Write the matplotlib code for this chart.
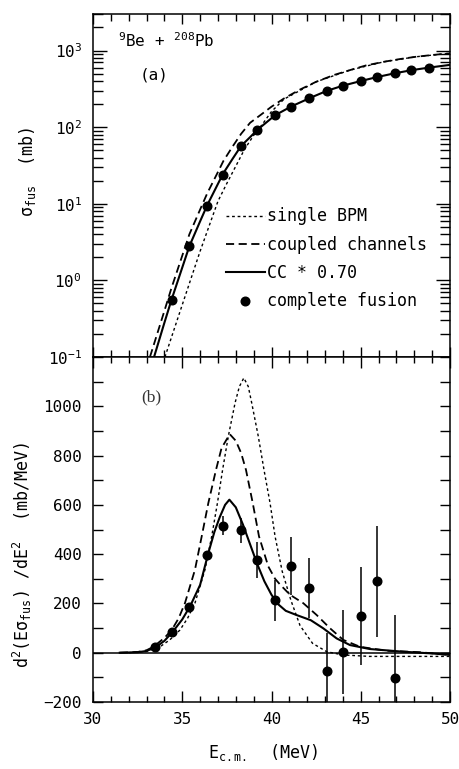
import matplotlib
matplotlib.use("Agg")
import matplotlib.pyplot as plt
from matplotlib.ticker import MultipleLocator, LogLocator, NullFormatter

plt.rcParams['font.family'] = ['DejaVu Sans Mono', 'DejaVu Sans']
plt.rcParams['mathtext.fontset'] = 'custom'
plt.rcParams['mathtext.rm'] = 'DejaVu Sans Mono'
plt.rcParams['mathtext.it'] = 'DejaVu Sans Mono'
plt.rcParams['mathtext.bf'] = 'DejaVu Sans Mono:bold'
plt.rcParams['mathtext.default'] = 'regular'

# ---------------- data: panel (a) ----------------
E_single_a = [34.03, 35.0, 36.0, 37.0, 37.5, 38.0, 38.5, 39.0, 39.5, 40.0, 40.7, 42.5, 44.4, 46.3, 48.1, 50.0]
sig_single = [0.1, 0.48, 2.4, 10.8, 18.5, 31, 52, 78, 110, 160, 232, 391, 556, 714, 830, 920]

E_cc_a = [33.19, 34.0, 34.4, 35.0, 35.4, 36.0, 36.4, 37.0, 37.3, 37.8, 38.3, 38.8, 39.4, 40.0, 40.7, 41.6, 42.5, 43.5, 44.4, 45.3, 46.3, 47.2, 48.1, 49.0, 50.0]
sig_cc = [0.1, 0.40, 0.8, 2.1, 4.0, 8.4, 13.7, 26, 36, 55, 82, 114, 145, 185, 237, 310, 391, 480, 556, 640, 714, 775, 830, 875, 920]

E_cc07_a = [33.42, 34.0, 34.4, 35.0, 35.4, 36.0, 36.4, 37.0, 37.3, 37.8, 38.3, 38.8, 39.2, 40.2, 41.1, 42.2, 43.1, 44.0, 45.0, 45.9, 46.9, 47.9, 48.8, 50.0]
sig_cc07 = [0.1, 0.28, 0.56, 1.47, 2.8, 5.9, 9.6, 18.2, 25, 38, 57, 74, 92, 143, 186, 243, 298, 348, 400, 450, 505, 557, 598, 650]

E_cf_a = [34.4, 35.4, 36.4, 37.3, 38.3, 39.2, 40.2, 41.1, 42.1, 43.1, 44.0, 45.0, 45.9, 46.9, 47.8, 48.8]
sig_cf = [0.56, 2.8, 9.4, 24, 56, 91, 143, 186, 243, 300, 348, 402, 452, 507, 560, 600]

# ---------------- data: panel (b) ----------------
E_single_b = [32.0, 33.0, 33.75, 34.3, 34.87, 35.3, 35.71, 36.27, 36.65, 36.97, 37.26, 37.58, 37.96, 38.2, 38.45, 38.7, 38.89, 39.26, 39.58, 39.92, 40.2, 40.6, 41.1, 41.6, 42.3, 43.1, 44.0, 45.5, 50.0]
bd_single = [0, 5, 24, 52, 92, 140, 201, 336, 472, 607, 742, 878, 1014, 1080, 1115, 1080, 1014, 878, 742, 607, 472, 330, 210, 110, 38, 4, -9, -15, -15]

E_cc_b = [31.5, 32.5, 33.0, 33.38, 34.0, 34.41, 34.8, 35.15, 35.71, 36.09, 36.46, 36.89, 37.2, 37.66, 38.0, 38.3, 38.57, 38.95, 39.3, 39.82, 40.2, 40.5, 41.04, 41.78, 42.53, 43.28, 44.02, 44.96, 46.45, 48.32, 50.0]
bd_cc = [0, 3, 10, 24, 60, 92, 140, 201, 336, 472, 607, 742, 830, 887, 860, 810, 742, 607, 472, 350, 300, 275, 235, 201, 153, 99, 52, 24, 8, 2, -9]

E_cc07_b = [31.5, 32.5, 33.0, 33.5, 34.0, 34.5, 35.0, 35.45, 36.0, 36.46, 36.8, 37.1, 37.4, 37.64, 38.0, 38.4, 38.8, 39.2, 39.6, 40.0, 40.4, 40.8, 41.4, 42.2, 42.9, 43.65, 44.4, 45.5, 47.4, 49.0, 50.0]
bd_cc07 = [0, 2, 7, 22, 48, 88, 135, 190, 275, 404, 490, 550, 600, 621, 590, 520, 440, 360, 290, 235, 195, 170, 153, 132, 99, 58, 31, 15, 4, -3, -9]

E_cf_b = [33.5, 34.4, 35.4, 36.4, 37.3, 38.3, 39.2, 40.2, 41.1, 42.1, 43.1, 44.0, 45.0, 45.9, 46.9]
bd_cf = [24, 83, 186, 396, 516, 496, 377, 213, 352, 262, -73, 4, 149, 289, -102]
bd_err = [5, 6, 10, 15, 40, 52, 74, 83, 117, 122, 152, 170, 200, 225, 255]

W, H = 459, 769
fig = plt.figure(figsize=(W / 100, H / 100), dpi=100)
L, R = 93 / W, 450 / W
y_top, y_mid, y_bot = 1 - 14 / H, 1 - 357 / H, 1 - 702 / H
axa = fig.add_axes([L, y_mid, R - L, y_top - y_mid])
axb = fig.add_axes([L, y_bot, R - L, y_mid - y_bot], sharex=axa)

tick_fs = 11.5
for ax in (axa, axb):
    for s in ax.spines.values():
        s.set_linewidth(1.1)
    ax.tick_params(which='both', direction='in', top=True, right=True, width=1.0, labelsize=tick_fs)

# ---- panel (a) ----
axa.set_yscale('log')
axa.set_xlim(30, 50)
axa.set_ylim(0.1, 3000)
axa.plot(E_single_a, sig_single, color='black', lw=1.0, linestyle=(0, (2, 2)), label='single BPM')
axa.plot(E_cc_a, sig_cc, color='black', lw=1.3, linestyle=(0, (4.5, 2.5)), label='coupled channels')
axa.plot(E_cc07_a, sig_cc07, color='black', lw=1.5, linestyle='-', label='CC * 0.70')
axa.plot(E_cf_a, sig_cf, 'o', color='black', markersize=6.2, label='complete fusion')
axa.yaxis.set_major_locator(LogLocator(base=10, numticks=10))
axa.yaxis.set_minor_locator(LogLocator(base=10, subs=range(2, 10), numticks=20))
axa.yaxis.set_minor_formatter(NullFormatter())
axa.xaxis.set_major_locator(MultipleLocator(5))
axa.xaxis.set_minor_locator(MultipleLocator(1))
axa.tick_params(axis='x', which='both', labelbottom=False)
axa.tick_params(axis='x', which='major', length=7)
axa.tick_params(axis='x', which='minor', length=5)
axa.tick_params(axis='y', which='major', length=10, pad=8)
axa.tick_params(axis='y', which='minor', length=7)

leg = axa.legend(loc='upper left', bbox_to_anchor=(0.372, 0.436), frameon=False,
                 borderpad=0, borderaxespad=0, handlelength=2.35, handletextpad=0.15,
                 labelspacing=0.62, fontsize=12, numpoints=1)

axa.text(0.07, 0.905, r'$^{9}$Be + $^{208}$Pb', transform=axa.transAxes, fontsize=11.5,
         ha='left', va='baseline')
axa.text(0.13, 0.81, '(a)', transform=axa.transAxes, fontsize=11.5, ha='left', va='baseline')

fig.text(33 / W, 1 - 172 / H, r'$\sigma_{fus}$  (mb)', rotation=90, rotation_mode='anchor',
         ha='center', va='baseline', fontsize=12)

# ---- panel (b) ----
axb.set_ylim(-200, 1200)
axb.axhline(0, color='black', lw=1.1)
axb.plot(E_single_b, bd_single, color='black', lw=1.0, linestyle=(0, (2, 2)))
axb.plot(E_cc_b, bd_cc, color='black', lw=1.3, linestyle=(0, (4.5, 2.5)))
axb.plot(E_cc07_b, bd_cc07, color='black', lw=1.5, linestyle='-')
axb.errorbar(E_cf_b, bd_cf, yerr=bd_err, fmt='o', color='black', markersize=6.2,
             elinewidth=1.1, capsize=0)
axb.set_yticks([-200, 0, 200, 400, 600, 800, 1000])
axb.yaxis.set_minor_locator(MultipleLocator(100))
axb.xaxis.set_major_locator(MultipleLocator(5))
axb.xaxis.set_minor_locator(MultipleLocator(1))
axb.tick_params(axis='y', which='both', length=7, pad=8)
axb.tick_params(axis='x', which='major', length=8, pad=7)
axb.tick_params(axis='x', which='minor', length=4)
axb.set_ylim(-200, 1200)
axb.set_xlim(30, 50)

axb.text(0.135, 0.87, '(b)', transform=axb.transAxes, fontsize=12.5, ha='left', va='baseline',
         family='Liberation Serif', color='#333333')

fig.text(29 / W, 1 - 555 / H, r'd$^2$(E$\sigma_{fus}$) /dE$^2$  (mb/MeV)', rotation=90,
         rotation_mode='anchor', ha='center', va='baseline', fontsize=12)
fig.text(263 / W, 1 - 758 / H, r'E$_{c.m.}$  (MeV)', ha='center', va='baseline', fontsize=12)

fig.savefig('out.png', dpi=100)
